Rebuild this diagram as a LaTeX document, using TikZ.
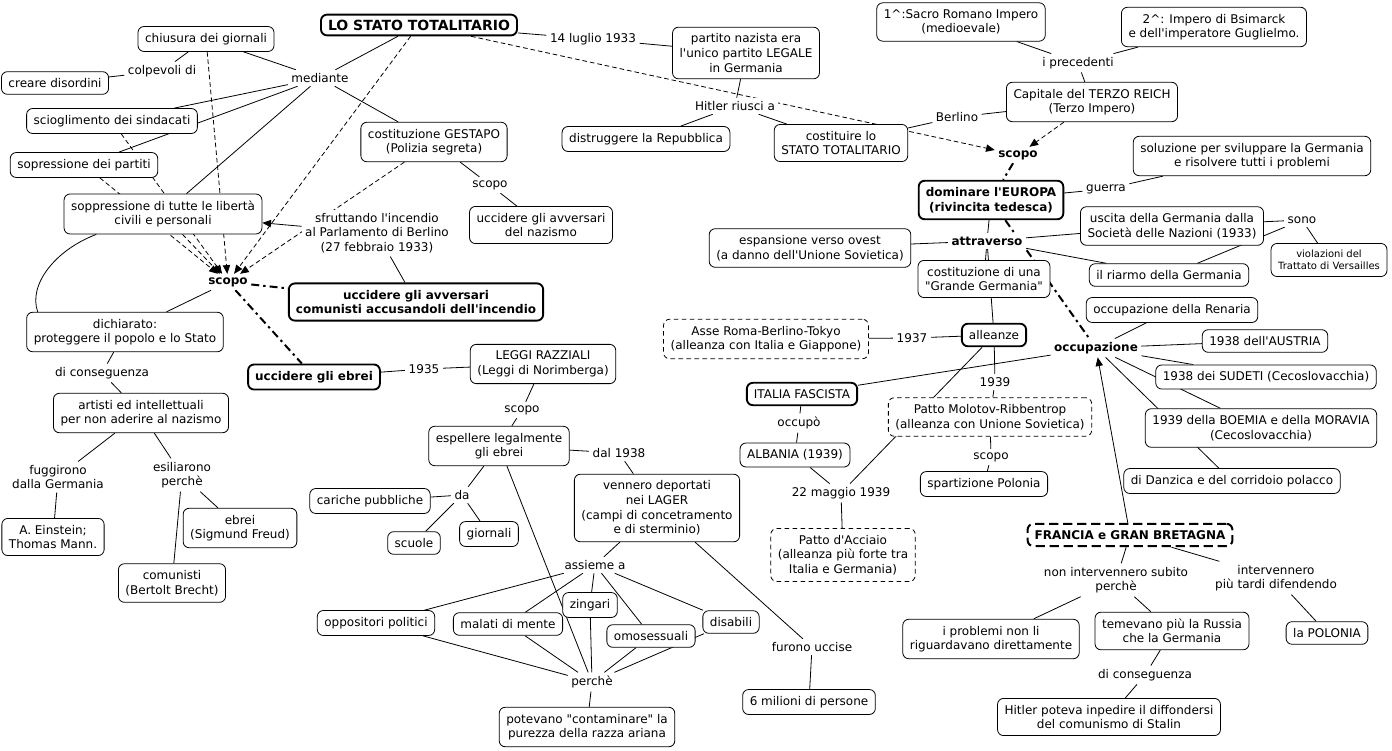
\documentclass[tikz,border=0pt]{standalone}
\usepackage{fontspec}
\setmainfont{DejaVu Sans}[Ligatures=TeXOff]
\usetikzlibrary{arrows.meta}
\pgfdeclarelayer{back}
\pgfsetlayers{back,main}
\newcommand\mapfont{\fontsize{9}{10.9}\selectfont}
\newcommand\smallmapfont{\fontsize{7.5}{9}\selectfont}
\newcommand\titlemapfont{\fontsize{10.5}{12}\selectfont\bfseries}

\begin{document}
\begin{tikzpicture}[x=0.75pt,y=0.75pt,yscale=-1,xscale=1,
  concept/.style={draw, fill=white, rounded corners=4.5pt, align=center, inner xsep=5.3pt, inner ysep=5pt, line width=0.6pt, font=\mapfont},
  thickconcept/.style={concept, line width=1.4pt},
  keyconcept/.style={thickconcept, font=\mapfont\bfseries},
  dashconcept/.style={concept, dash pattern=on 3.5pt off 2.5pt},
  phrase/.style={fill=white, align=center, inner sep=2.5pt, font=\mapfont},
  mainphrase/.style={phrase, font=\mapfont\bfseries},
  link/.style={line width=0.6pt},
  arrowlink/.style={link, -{Triangle[length=6.5pt,width=5.5pt]}},
  dlink/.style={arrowlink, dash pattern=on 3.5pt off 2.2pt},
  boldlink/.style={line width=1.5pt, dash pattern=on 6pt off 3pt on 1.8pt off 3pt}]
\useasboundingbox (0,0) rectangle (1392,750);

% Concepts
\node[keyconcept, font=\titlemapfont, inner ysep=3.8pt] (stato) at (419,25) {LO STATO TOTALITARIO};
\node[concept] (chiusura) at (206,39) {chiusura dei giornali};
\node[concept] (disordini) at (55,83) {creare disordini};
\node[concept] (sindacati) at (112,121) {scioglimento dei sindacati};
\node[concept] (partiti) at (84,165) {sopressione dei partiti};
\node[concept] (liberta) at (163,214) {soppressione di tutte le libertà\\civili e personali};
\node[concept] (gestapo) at (434,142) {costituzione GESTAPO\\(Polizia segreta)};
\node[concept] (avversari) at (541,225) {uccidere gli avversari\\del nazismo};
\node[concept] (legale) at (746,53) {partito nazista era\\l'unico partito LEGALE\\in Germania};
\node[concept] (repubblica) at (646,139) {distruggere la Repubblica};
\node[concept] (costituire) at (841,143) {costituire lo\\STATO TOTALITARIO};
\node[concept] (primo) at (961,22) {1\textasciicircum:Sacro Romano Impero\\(medioevale)};
\node[concept] (secondo) at (1214,27) {2\textasciicircum: Impero di Bsimarck\\e dell'imperatore Guglielmo.};
\node[concept] (reich) at (1092,102) {Capitale del TERZO REICH\\(Terzo Impero)};
\node[concept] (soluzione) at (1252,156) {soluzione per sviluppare la Germania\\e risolvere tutti i problemi};
\node[keyconcept] (europa) at (991,200) {dominare l'EUROPA\\(rivincita tedesca)};
\node[concept] (nazioni) at (1172,226) {uscita della Germania dalla\\Società delle Nazioni (1933)};
\node[concept, font=\smallmapfont] (versailles) at (1329,260) {violazioni del\\Trattato di Versailles};
\node[concept] (riarmo) at (1169,275) {il riarmo della Germania};
\node[concept] (ovest) at (810,248) {espansione verso ovest\\(a danno dell'Unione Sovietica)};
\node[concept] (grande) at (984,279) {costituzione di una\\"Grande Germania"};
\node[concept] (renania) at (1172,310) {occupazione della Renaria};
\node[concept] (austria) at (1265,341) {1938 dell'AUSTRIA};
\node[concept] (sudeti) at (1266,377) {1938 dei SUDETI (Cecoslovacchia)};
\node[concept] (boemia) at (1261,428) {1939 della BOEMIA e della MORAVIA\\(Cecoslovacchia)};
\node[concept] (danzica) at (1232,481) {di Danzica e del corridoio polacco};
\node[thickconcept] (alleanze) at (994,335) {alleanze};
\node[dashconcept] (asse) at (766,339) {Asse Roma-Berlino-Tokyo\\(alleanza con Italia e Giappone)};
\node[thickconcept] (italia) at (802,394) {ITALIA FASCISTA};
\node[dashconcept] (molotov) at (990,417) {Patto Molotov-Ribbentrop\\(alleanza con Unione Sovietica)};
\node[concept] (albania) at (795,455) {ALBANIA (1939)};
\node[concept] (spartizione) at (984,484) {spartizione Polonia};
\node[dashconcept] (acciaio) at (843,555) {Patto d'Acciaio\\(alleanza più forte tra\\Italia e Germania)};
\node[keyconcept, line width=1.5pt, dash pattern=on 7pt off 3.5pt] (francia) at (1130,535) {FRANCIA e GRAN BRETAGNA};
\node[concept] (problemi) at (991,639) {i problemi non li\\riguardavano direttamente};
\node[concept] (russia) at (1172,631) {temevano più la Russia\\che la Germania};
\node[concept] (polonia) at (1327,633) {la POLONIA};
\node[concept] (stalin) at (1109,717) {Hitler poteva inpedire il diffondersi\\del comunismo di Stalin};
\node[keyconcept] (comunisti) at (416,302) {uccidere gli avversari\\comunisti accusandoli dell'incendio};
\node[keyconcept] (ebrei) at (314,377) {uccidere gli ebrei};
\node[concept] (dichiarato) at (125,332) {dichiarato:\\proteggere il popolo e lo Stato};
\node[concept] (artisti) at (141,413) {artisti ed intellettuali\\per non aderire al nazismo};
\node[concept] (einstein) at (53,537) {A. Einstein;\\Thomas Mann.};
\node[concept] (freud) at (240,528) {ebrei\\(Sigmund Freud)};
\node[concept] (brecht) at (172,583) {comunisti\\(Bertolt Brecht)};
\node[concept] (leggi) at (543,364) {LEGGI RAZZIALI\\(Leggi di Norimberga)};
\node[concept] (espellere) at (499,446) {espellere legalmente\\gli ebrei};
\node[concept] (cariche) at (370,501) {cariche pubbliche};
\node[concept] (scuole) at (414,543) {scuole};
\node[concept] (giornali) at (489,534) {giornali};
\node[concept] (lager) at (657,508) {vennero deportati\\nei LAGER\\(campi di concetramento\\e di sterminio)};
\node[concept] (oppositori) at (376,623) {oppositori politici};
\node[concept] (malati) at (508,624) {malati di mente};
\node[concept] (zingari) at (590,605) {zingari};
\node[concept] (omosessuali) at (651,636) {omosessuali};
\node[concept] (disabili) at (731,622) {disabili};
\node[concept] (razza) at (587,727) {potevano "contaminare" la\\purezza della razza ariana};
\node[concept] (milioni) at (809,702) {6 milioni di persone};

% Linking phrases
\node[phrase] (mediante) at (320,78) {mediante};
\node[phrase] (colpevoli) at (162,71) {colpevoli di};
\node[phrase] (luglio) at (593,39) {14 luglio 1933};
\node[phrase] (riusci) at (735,106) {Hitler riusci a};
\node[phrase] (precedenti) at (1078,63) {i precedenti};
\node[phrase] (berlino) at (957,117) {Berlino};
\node[mainphrase] (scopoA) at (1018,155) {scopo};
\node[phrase] (guerra) at (1106,189) {guerra};
\node[mainphrase] (attraverso) at (987,241) {attraverso};
\node[phrase] (sono) at (1302,220) {sono};
\node[mainphrase] (occupazione) at (1096,348) {occupazione};
\node[phrase] (anno37) at (912,338) {1937};
\node[phrase] (anno39) at (995,382) {1939};
\node[phrase] (occupo) at (799,423) {occupò};
\node[phrase] (maggio) at (841,493) {22 maggio 1939};
\node[phrase] (scopoB) at (991,457) {scopo};
\node[phrase] (scopoC) at (490,185) {scopo};
\node[phrase] (incendio) at (377,233) {sfruttando l'incendio\\al Parlamento di Berlino\\(27 febbraio 1933)};
\node[mainphrase] (scopoD) at (228,282) {scopo};
\node[phrase] (conseguenzaA) at (102,373) {di conseguenza};
\node[phrase] (fuggirono) at (58,477) {fuggirono\\dalla Germania};
\node[phrase] (esiliarono) at (182,475) {esiliarono\\perchè};
\node[phrase] (anno35) at (424,369) {1935};
\node[phrase] (scopoE) at (522,410) {scopo};
\node[phrase] (da) at (462,495) {da};
\node[phrase] (dal38) at (619,453) {dal 1938};
\node[phrase] (assieme) at (595,565) {assieme a};
\node[phrase] (perche) at (592,682) {perchè};
\node[phrase] (uccise) at (812,647) {furono uccise};
\node[phrase] (subito) at (1116,580) {non intervennero subito\\perchè};
\node[phrase] (tardi) at (1276,578) {intervennero\\più tardi difendendo};
\node[phrase] (conseguenzaB) at (1145,675) {di conseguenza};

% Links
\begin{pgfonlayer}{back}
\draw[link] (stato) -- (mediante);
\draw[link] (mediante) -- (chiusura);
\draw[link] (mediante) -- (sindacati);
\draw[link] (mediante) -- (partiti);
\draw[link] (mediante) -- (liberta);
\draw[link] (mediante) -- (gestapo);
\draw[link] (chiusura) -- (colpevoli);
\draw[link] (colpevoli) -- (disordini);
\draw[link] (gestapo) -- (scopoC);
\draw[link] (scopoC) -- (avversari);
\draw[dlink] (stato) -- (scopoD);
\draw[dlink] (chiusura) -- (scopoD);
\draw[dlink] (sindacati) -- (scopoD);
\draw[dlink] (partiti) -- (scopoD);
\draw[dlink] (liberta) -- (scopoD);
\draw[dlink] (gestapo) -- (scopoD);
\draw[arrowlink] (incendio) -- (liberta);
\draw[link] (incendio) -- (comunisti);
\draw[boldlink] (scopoD) -- (comunisti);
\draw[boldlink] (scopoD) -- (ebrei);
\draw[link] (scopoD) -- (dichiarato);
\draw[link] (liberta.197) .. controls (55,250) and (28,285) .. (dichiarato.167);
\draw[link] (dichiarato) -- (conseguenzaA);
\draw[link] (conseguenzaA) -- (artisti);
\draw[link] (artisti) -- (fuggirono);
\draw[link] (fuggirono) -- (einstein);
\draw[link] (artisti) -- (esiliarono);
\draw[link] (esiliarono) -- (freud);
\draw[link] (esiliarono) -- (brecht);
% ebrei
\draw[link] (ebrei) -- (anno35);
\draw[link] (anno35) -- (leggi);
\draw[link] (leggi) -- (scopoE);
\draw[link] (scopoE) -- (espellere);
\draw[link] (espellere) -- (da);
\draw[link] (da) -- (cariche);
\draw[link] (da) -- (scuole);
\draw[link] (da) -- (giornali);
\draw[link] (espellere) -- (dal38);
\draw[link] (dal38) -- (lager);
\draw[link] (espellere) -- (perche);
\draw[link] (lager) -- (assieme);
\foreach \v in {oppositori,malati,zingari,omosessuali,disabili}{
  \draw[link] (assieme) -- (\v);
  \draw[link] (\v) -- (perche);
}
\draw[link] (perche) -- (razza);
\draw[link] (lager) -- (uccise);
\draw[link] (uccise) -- (milioni);
% top
\draw[link] (stato) -- (luglio);
\draw[link] (luglio) -- (legale);
\draw[link] (legale) -- (riusci);
\draw[link] (riusci) -- (repubblica);
\draw[link] (riusci) -- (costituire);
\draw[link] (costituire) -- (berlino);
\draw[link] (berlino) -- (reich);
\draw[link] (reich) -- (precedenti);
\draw[link] (precedenti) -- (primo);
\draw[link] (precedenti) -- (secondo);
\draw[dlink] (stato) -- (scopoA);
\draw[dlink] (reich) -- (scopoA);
\draw[boldlink] (scopoA) -- (europa);
% right
\draw[link] (europa) -- (guerra);
\draw[link] (guerra) -- (soluzione);
\draw[link] (europa) -- (attraverso);
\draw[boldlink] (europa) -- (occupazione);
\draw[link] (attraverso) -- (ovest);
\draw[link] (attraverso) -- (nazioni);
\draw[link] (attraverso) -- (riarmo);
\draw[link] (attraverso) -- (grande);
\draw[link] (attraverso) -- (alleanze);
\draw[link] (nazioni) -- (sono);
\draw[link] (riarmo) -- (sono);
\draw[link] (sono) -- (versailles);
\foreach \v in {renania,austria,sudeti,boemia,danzica,italia}
  \draw[link] (occupazione) -- (\v);
\draw[link] (alleanze) -- (anno37);
\draw[link] (anno37) -- (asse);
\draw[link] (alleanze) -- (anno39);
\draw[link] (anno39) -- (molotov);
\draw[link] (alleanze) -- (maggio);
\draw[link] (molotov) -- (scopoB);
\draw[link] (scopoB) -- (spartizione);
\draw[link] (italia) -- (occupo);
\draw[link] (occupo) -- (albania);
\draw[link] (albania) -- (maggio);
\draw[link] (maggio) -- (acciaio);
\draw[arrowlink] (francia) -- (occupazione);
\draw[link] (francia) -- (subito);
\draw[link] (subito) -- (problemi);
\draw[link] (subito) -- (russia);
\draw[link] (russia) -- (conseguenzaB);
\draw[link] (conseguenzaB) -- (stalin);
\draw[link] (francia) -- (tardi);
\draw[link] (tardi) -- (polonia);
\end{pgfonlayer}
\end{tikzpicture}
\end{document}
